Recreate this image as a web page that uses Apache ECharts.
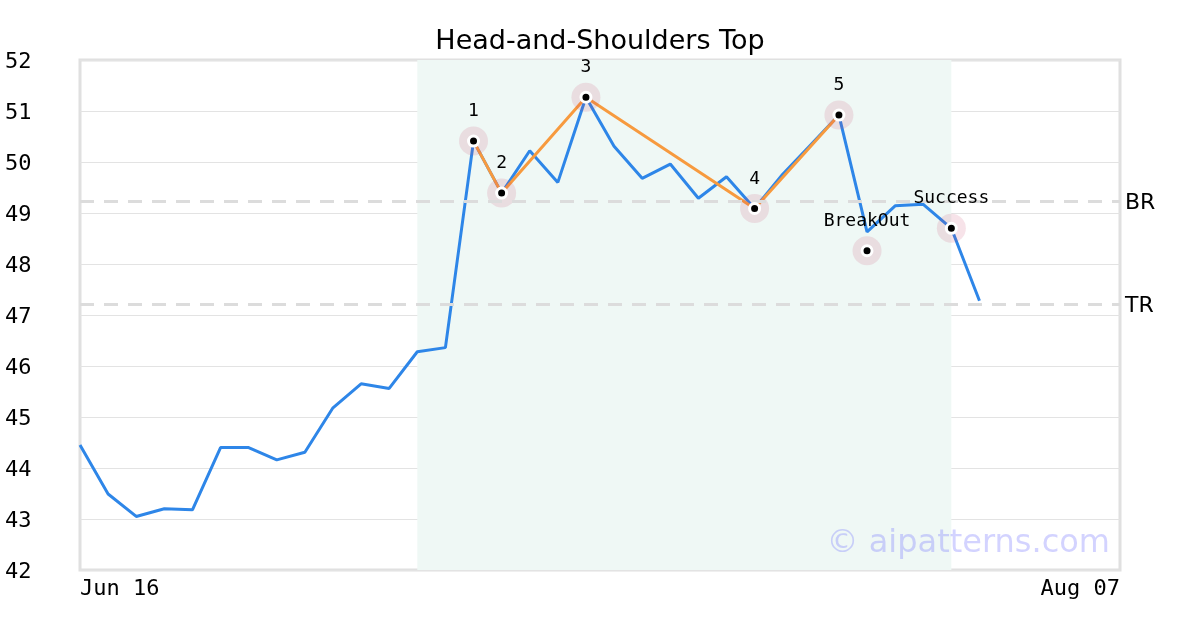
<!DOCTYPE html>
<html>
<head>
<meta charset="utf-8">
<script src="https://cdn.jsdelivr.net/npm/echarts@6/dist/echarts.min.js"></script>
<style>html,body{margin:0;padding:0;background:#fff}#c{width:1200px;height:630px}</style>
</head>
<body>
<div id="c"></div>
<script>
var categories = ['Jun 16','Jun 17','Jun 18','Jun 19','Jun 20','Jun 23','Jun 24','Jun 25','Jun 26','Jun 27','Jun 30',
  'Jul 01','Jul 02','Jul 03','Jul 07','Jul 08','Jul 09','Jul 10','Jul 11','Jul 14','Jul 15','Jul 16','Jul 17','Jul 18',
  'Jul 21','Jul 22','Jul 23','Jul 24','Jul 25','Jul 28','Jul 29','Jul 30','Jul 31','Aug 01','Aug 04','Aug 05','Aug 06','Aug 07'];
var prices = [44.45, 43.49, 43.05, 43.2, 43.18, 44.4, 44.4, 44.16, 44.31, 45.18, 45.65, 45.56, 46.28, 46.36,
  50.41, 49.39, 50.22, 49.6, 51.27, 50.31, 49.68, 49.96, 49.29, 49.71, 49.09, 49.76, 50.34, 50.92,
  48.63, 49.14, 49.17, 48.7, 47.28];
var patternIdx = [14, 15, 18, 24, 27];
var patternLabels = ['1', '2', '3', '4', '5'];
var breakoutIdx = 28, breakoutValue = 48.26;
var successIdx = 31, successValue = 48.7;
var brLevel = 49.24, trLevel = 47.22;
var zoneStart = 12, zoneEnd = 31;
var yTicks = [42, 52, 1];

var patternPts = patternIdx.map(function (i) { return [categories[i], prices[i]]; });
var markerPts = patternIdx.map(function (i, k) { return { value: [categories[i], prices[i]], name: patternLabels[k] }; });
markerPts.push({ value: [categories[breakoutIdx], breakoutValue], name: 'BreakOut' });
markerPts.push({ value: [categories[successIdx], successValue], name: 'Success' });

var chart = echarts.init(document.getElementById('c'));
chart.setOption({
  animation: false,
  backgroundColor: '#fff',
  title: {
    text: 'Head-and-Shoulders Top', left: 'center', top: 23,
    textStyle: { fontFamily: 'DejaVu Sans', fontSize: 27, fontWeight: 'normal', color: '#000' }
  },
  grid: { left: 80, right: 80, top: 60, bottom: 60, show: true, borderColor: '#e0e0e0', borderWidth: 3, backgroundColor: 'transparent' },
  xAxis: {
    type: 'category', data: categories, boundaryGap: false,
    axisLine: { show: false }, axisTick: { show: false }, splitLine: { show: false },
    axisLabel: {
      interval: function (i) { return i === 0 || i === categories.length - 1; },
      alignMinLabel: 'left', alignMaxLabel: 'right',
      fontFamily: 'DejaVu Sans Mono', fontSize: 22, color: '#000', margin: 8
    }
  },
  yAxis: {
    type: 'value', min: yTicks[0], max: yTicks[1], interval: yTicks[2],
    axisLine: { show: false }, axisTick: { show: false },
    splitLine: { lineStyle: { color: '#e3e3e3', width: 1 } },
    axisLabel: {
      fontFamily: 'DejaVu Sans Mono', fontSize: 22, color: '#000', align: 'left', margin: 75,
      formatter: '{v|{value}}', rich: { v: { fontFamily: 'DejaVu Sans Mono', fontSize: 22, color: '#000', padding: [4, 0, 0, 0] } }
    }
  },
  graphic: [{
    type: 'text', right: 90, top: 528,
    style: { text: '\u00a9 aipatterns.com', font: '32px "DejaVu Sans"', fill: 'rgba(110,110,255,0.3)' },
    z: 100
  }],
  series: [
    {
      type: 'line', data: prices, symbol: 'none', z: 2,
      lineStyle: { color: '#2e86e8', width: 3 },
      markArea: {
        silent: true,
        itemStyle: { color: '#eff8f5' },
        data: [[{ xAxis: categories[zoneStart] }, { xAxis: categories[zoneEnd] }]]
      },
      markLine: {
        silent: true, symbol: 'none',
        lineStyle: { color: '#dcdcdc', width: 3, type: [14, 10] },
        label: {
          position: 'end', distance: 5, color: '#000',
          rich: { t: { fontFamily: 'DejaVu Sans', fontSize: 22, color: '#000', padding: [6, 0, 0, 0] } }
        },
        data: [
          { yAxis: brLevel, label: { formatter: '{t|BR}' } },
          { yAxis: trLevel, label: { formatter: '{t|TR}' } }
        ]
      }
    },
    {
      type: 'line', data: patternPts, symbol: 'none', z: 3,
      lineStyle: { color: '#f79a3e', width: 3 }
    },
    {
      type: 'scatter', data: markerPts, symbolSize: 29, z: 4,
      itemStyle: { color: 'rgba(200,60,100,0.18)' }
    },
    {
      type: 'scatter', data: markerPts, symbolSize: 10, z: 5,
      itemStyle: { color: '#000', borderColor: '#fff', borderWidth: 3, opacity: 1 },
      label: {
        show: true, position: 'top', distance: 14,
        formatter: function (p) { return p.name; },
        fontFamily: 'DejaVu Sans Mono', fontSize: 18, color: '#000'
      }
    }
  ]
});
</script>
</body>
</html>
